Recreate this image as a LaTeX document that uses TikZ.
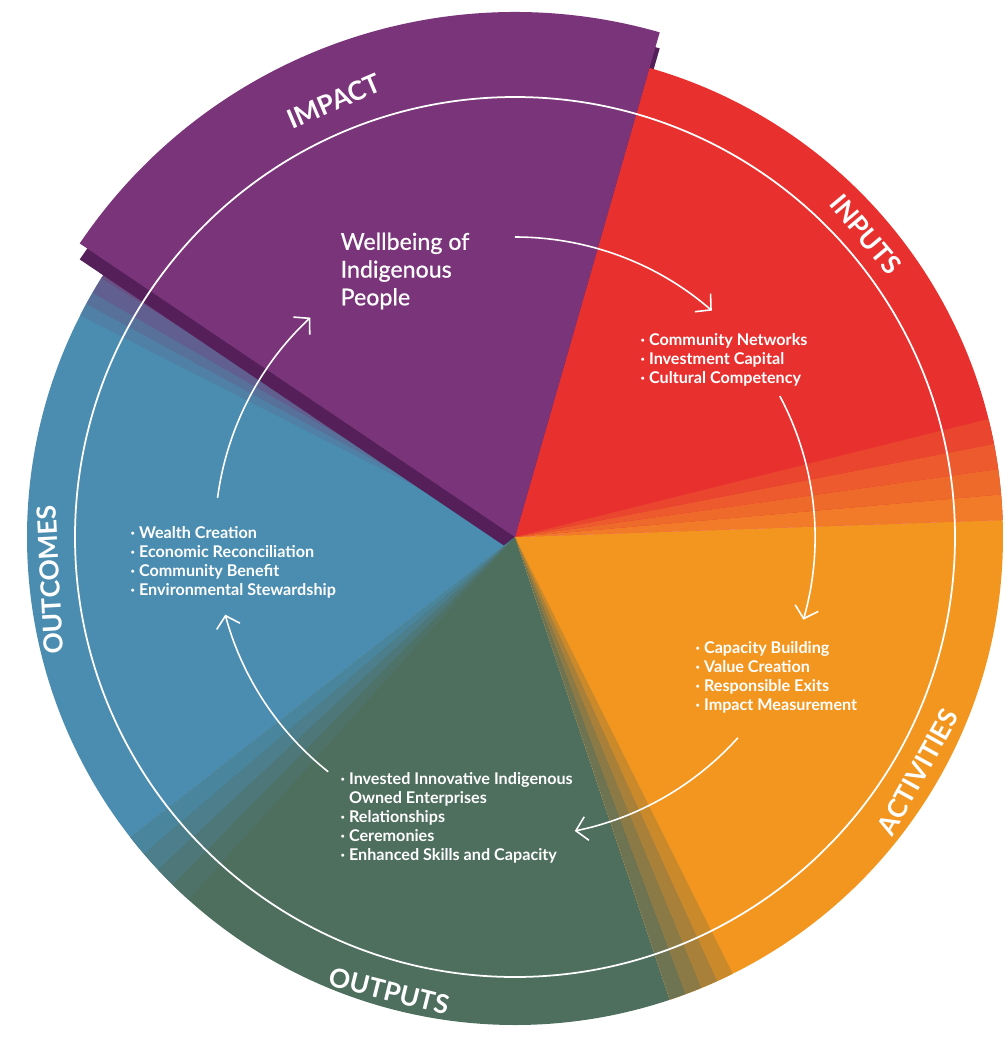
\documentclass[tikz,border=0pt]{standalone}
\usepackage{fontspec}
\setmainfont{Lato}
\usetikzlibrary{arrows.meta}

\definecolor{viola}{HTML}{7A3479}
\definecolor{violascuro}{HTML}{55205A}
\definecolor{rosso}{HTML}{E8302F}
\definecolor{arancio}{HTML}{F39620}
\definecolor{verde}{HTML}{4E6E5E}
\definecolor{blu}{HTML}{4A8DB0}

\begin{document}
\begin{tikzpicture}[x=0.1mm,y=0.1mm,
titolo/.style={text=white,inner sep=0pt,font=\fontsize{7.5}{8}\selectfont\bfseries},
elenco/.style={text=white,inner sep=0pt,anchor=west,align=left,font=\fontsize{4.6}{5.4}\selectfont\bfseries},
centrale/.style={text=white,inner sep=0pt,anchor=west,align=left,font=\fontsize{6.6}{7.9}\selectfont\addfontfeature{FakeBold=0.7}},
freccia/.style={draw=white,line width=0.45pt,-{Straight Barb[length=1.1mm,width=2.4mm]}},
anello/.style={draw=white,line width=0.5pt}
]
\useasboundingbox (-515,-500) rectangle (490,537);
%-- spicchi
\fill[blu] (0,0) -- (146:488) arc[start angle=146,end angle=218,radius=488] -- cycle;
\foreach \a/\b/\c in {146/148/6A4F84,148/150/615F8F,150/151.5/58719A,151.5/153/5080A6}{
  \definecolor{banda}{HTML}{\c}
  \fill[banda] (0,0) -- (\a:488) arc[start angle=\a,end angle=\b,radius=488] -- cycle;}
\fill[violascuro,shift={(0,-16)}] (0,0) -- (74:525) arc[start angle=74,end angle=146,radius=525] -- cycle;
\fill[verde] (0,0) -- (218:488) arc[start angle=218,end angle=288.5,radius=488] -- cycle;
\fill[arancio] (0,0) -- (288.5:488) arc[start angle=288.5,end angle=362,radius=488] -- cycle;
\fill[rosso] (0,0) -- (2:488) arc[start angle=2,end angle=74,radius=488] -- cycle;
%-- sfumature
\foreach \a/\b/\c in {2/5/F17B28,5/8/EE6A2B,8/11/EC5A2D,11/14/EA452E,
  288.5/290.5/6E7352,290.5/292.5/8B7A46,292.5/294.5/A98039,294.5/296.5/CA892B,
  218/220.5/4A859E,220.5/223/4C7E8B,223/225.5/4D7778,225.5/228/4E7267}{
  \definecolor{banda}{HTML}{\c}
  \fill[banda] (0,0) -- (\a:488) arc[start angle=\a,end angle=\b,radius=488] -- cycle;}
\fill[viola] (0,0) -- (74:525) arc[start angle=74,end angle=146,radius=525] -- cycle;
%-- anello
\draw[anello] (0,0) circle[radius=440];
%-- etichette
\node[titolo,rotate=23] (impatto) at (-181,436) {IMPACT};
\node[titolo,rotate=-50] (ingressi) at (351,303) {INPUTS};
\node[titolo,rotate=61] (attivita) at (403,-235) {ACTIVITIES};
\node[titolo,rotate=-14] (uscite) at (-126,-454) {OUTPUTS};
\node[titolo,rotate=93] (risultati) at (-465,-43) {OUTCOMES};
%-- testi
\node[centrale] (benessere) at (-175,266) {Wellbeing of\\Indigenous\\People};
\node[elenco] (tin) at (125,177) {· Community Networks\\· Investment Capital\\· Cultural Competency};
\node[elenco] (tatt) at (180,-140) {· Capacity Building\\· Value Creation\\· Responsible Exits\\· Impact Measurement};
\node[elenco] (tout) at (-175,-281) {· Invested Innovative Indigenous\\\hphantom{· }Owned Enterprises\\· Relationships\\· Ceremonies\\· Enhanced Skills and Capacity};
\node[elenco] (tris) at (-385,-25) {· Wealth Creation\\· Economic Reconciliation\\· Community Benefit\\· Environmental Stewardship};
%-- frecce
\coordinate (f1) at (90:300);
\draw[freccia] (f1) arc[start angle=90,end angle=49,radius=300];
\coordinate (f2) at (28:300);
\draw[freccia] (f2) arc[start angle=28,end angle=-16,radius=300];
\coordinate (f3) at (-42:300);
\draw[freccia] (f3) arc[start angle=-42,end angle=-78.5,radius=300];
\coordinate (f4) at (231.5:300);
\draw[freccia] (f4) arc[start angle=231.5,end angle=195,radius=300];
\coordinate (f5) at (172.5:300);
\draw[freccia] (f5) arc[start angle=172.5,end angle=133,radius=300];
\end{tikzpicture}
\end{document}
